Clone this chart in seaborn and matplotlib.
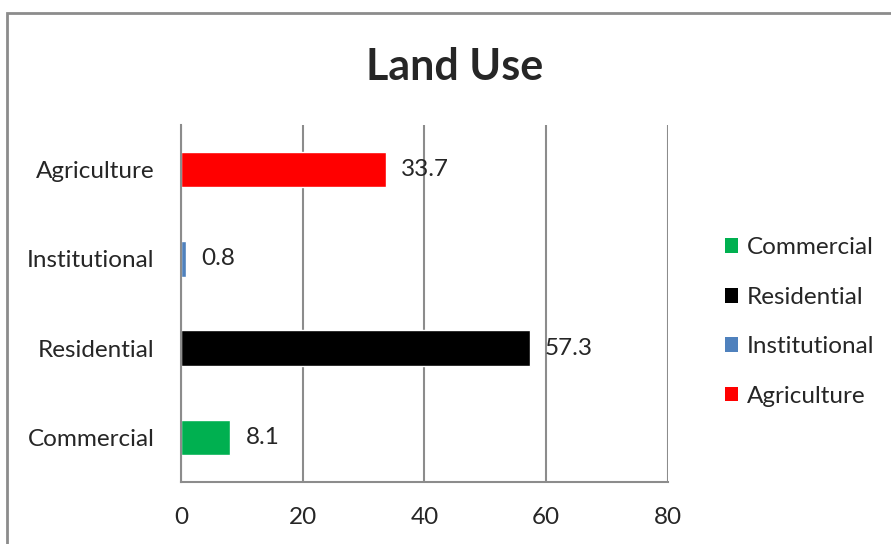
import matplotlib
matplotlib.use("Agg")
import matplotlib.pyplot as plt
from matplotlib.patches import Patch, Rectangle
import seaborn as sns
import pandas as pd

# Land use shares (percent)
categories = ["Agriculture", "Institutional", "Residential", "Commercial"]
values = [33.7, 0.8, 57.3, 8.1]
colors = {"Commercial": "#00B050", "Residential": "#000000",
          "Institutional": "#4F81BD", "Agriculture": "#FF0000"}
legend_order = ["Commercial", "Residential", "Institutional", "Agriculture"]
x_ticks = [0, 20, 40, 60, 80]

sns.set_style("white")
plt.rcParams["font.family"] = ["Lato", "DejaVu Sans"]

df = pd.DataFrame({"category": categories, "value": values})

fig = plt.figure(figsize=(8.91, 5.44), dpi=100)
ax = fig.add_axes([181 / 891, 1 - 482 / 544, (668 - 181) / 891, (482 - 125) / 544])

sns.barplot(data=df, y="category", x="value", hue="category", order=categories,
            palette=colors, width=0.4, dodge=False, legend=False, ax=ax,
            saturation=1)

grid_c = "#8C8C8C"
fs = 17.5
ax.set_xlim(0, 80)
ax.set_ylim(3.5, -0.5)
ax.set_xticks(x_ticks)
ax.set_xticklabels([str(t) for t in x_ticks])
ax.set_xlabel("")
ax.set_ylabel("")
ax.xaxis.grid(True, color=grid_c, linewidth=1.5)
ax.set_axisbelow(True)

for side in ("top", "right"):
    ax.spines[side].set_visible(False)
for side in ("left", "bottom"):
    ax.spines[side].set_color(grid_c)
    ax.spines[side].set_linewidth(1.5)

ax.tick_params(axis="x", which="major", length=6, width=1.5, color=grid_c,
               labelsize=fs, pad=12, direction="out")
ax.tick_params(axis="y", which="major", length=0, labelsize=fs, pad=19)
ax.set_yticks([-0.5, 0.5, 1.5, 2.5, 3.5], minor=True)
ax.tick_params(axis="y", which="minor", length=6, width=1.5, color=grid_c,
               direction="out")

for container in ax.containers:
    ax.bar_label(container, fmt="%.1f", padding=11, fontsize=fs)

handles = [Patch(facecolor=colors[c], edgecolor="none") for c in legend_order]
fig.legend(handles, legend_order, loc="center left",
           bbox_to_anchor=(703 / 891, 1 - 322 / 544), frameon=False,
           fontsize=fs, handlelength=0.55, handleheight=0.55,
           handletextpad=0.35, labelspacing=1.17)

fig.text(455 / 891, 1 - 67 / 544, "Land Use", ha="center", va="center",
         fontsize=31, fontweight="bold")

# Chart area border
fig.patches.append(Rectangle((7 / 891, -0.1), 1.1, 1.1 - 13 / 544,
                             transform=fig.transFigure, fill=False,
                             edgecolor="#8C8C8C", linewidth=2))

fig.savefig("out.png", dpi=100)
